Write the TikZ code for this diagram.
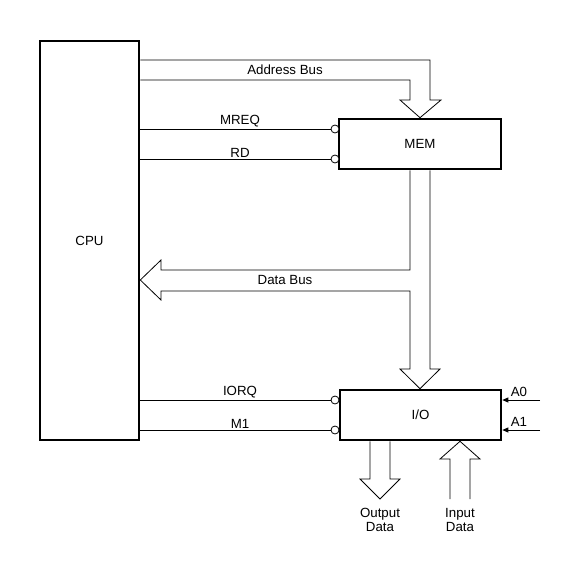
\documentclass[tikz,border=0pt]{standalone}
\usepackage{fontspec}
\setmainfont{Liberation Sans}
\usetikzlibrary{arrows.meta}
\tikzset{
	block/.style={draw, line width=2.6pt, inner sep=0pt, font=\fontsize{13.3}{14}\selectfont},
	bubble/.style={draw, circle, line width=0.8pt, minimum size=8pt, inner sep=0pt, fill=white},
	bus/.style={line width=0.8pt, line join=miter},
	lbl/.style={inner sep=1.5pt, font=\fontsize{13.3}{14}\selectfont}
}
\begin{document}
\begin{tikzpicture}[x=1pt, y=-1pt, line width=0.8pt]
	\useasboundingbox (0,0) rectangle (580,580);
	% blocks
	\node [block, minimum width=99pt, minimum height=399pt] (cpu) at (89.5,240.5) {CPU};
	\node [block, minimum width=162pt, minimum height=50pt] (mem) at (420,144) {MEM};
	\node [block, minimum width=161pt, minimum height=50pt] (io) at (420.5,415) {I/O};
	% control lines
	\node [bubble] (mreq) at (335,129) {};
	\node [bubble] (rd) at (335,159) {};
	\node [bubble] (iorq) at (335,400) {};
	\node [bubble] (mone) at (335,430) {};
	\draw (cpu.east |- mreq) -- (mreq.west);
	\draw (cpu.east |- rd) -- (rd.west);
	\draw (cpu.east |- iorq) -- (iorq.west);
	\draw (cpu.east |- mone) -- (mone.west);
	\node [lbl, above] at (240,129) {MREQ};
	\node [lbl, above] at (240,159) {RD};
	\node [lbl, above] at (240,400) {IORQ};
	\node [lbl, above] at (240,430) {M1};
	% address lines
	\coordinate (azero) at (540,400);
	\coordinate (aone) at (540,430);
	\draw [-{Triangle[length=6pt, width=5pt]}] (azero) -- (io.east |- azero);
	\draw [-{Triangle[length=6pt, width=5pt]}] (aone) -- (io.east |- aone);
	\node [lbl] at (519,392) {A0};
	\node [lbl] at (519,422) {A1};
	% address bus
	\draw [bus] (cpu.east |- 0,60) -- (430,60) -- (430,100) -- (441,100) -- (mem.north -| 420,0)
		-- (400,100) -- (410,100) -- (410,80) -- (cpu.east |- 0,80);
	\node [lbl] at (285,70) {Address Bus};
	% data bus
	\draw [bus] (mem.south -| 410,0) -- (410,270) -- (161,270) -- (161,260) -- (cpu.east |- 0,280)
		-- (161,300) -- (161,291) -- (410,291) -- (410,369) -- (400,369) -- (io.north -| 420,0)
		-- (440,369) -- (430,369) -- (mem.south -| 430,0);
	\node [lbl] at (285,280) {Data Bus};
	% output and input data
	\draw [bus] (io.south -| 370,0) -- (370,479) -- (360,479) -- (380,499) -- (400,479) -- (390,479) -- (io.south -| 390,0);
	\draw [bus] (450,499) -- (450,459) -- (440,459) -- (io.south -| 460,0) -- (480,459) -- (470,459) -- (470,499);
	\node [lbl, align=center] at (380,520) {Output\\Data};
	\node [lbl, align=center] at (460,520) {Input\\Data};
\end{tikzpicture}
\end{document}
